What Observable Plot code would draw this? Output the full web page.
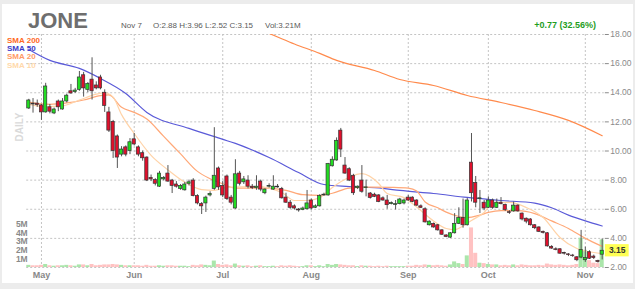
<!DOCTYPE html>
<html><head><meta charset="utf-8">
<script src="https://cdn.jsdelivr.net/npm/d3@7"></script>
<script src="https://cdn.jsdelivr.net/npm/@observablehq/plot@0.6"></script>
<style>
html,body{margin:0;padding:0;background:#ececec;}
#wrap{position:relative;width:635px;height:289px;overflow:hidden;font-family:"Liberation Sans",Arial,sans-serif;}
#panel{position:absolute;left:2px;top:4px;width:631px;height:279px;background:#fff;}
#plot,#over{position:absolute;left:0;top:0;}
</style></head><body>
<div id="wrap"><div id="panel"></div><div id="plot"></div><svg id="over" width="635" height="289"></svg></div>
<script>
const ticker = "JONE";
const infoDate = "Nov 7";
const infoOHLC = "O:2.88 H:3.96 L:2.52 C:3.15";
const infoVol = "Vol:3.21M";
const infoChange = "+0.77 (32.56%)";
const lastClose = 3.15;

const monthIdx = [4, 26, 47, 68, 91, 110, 133];
const monthLabels = ["May", "Jun", "Jul", "Aug", "Sep", "Oct", "Nov"];
const priceTicks = [2, 4, 6, 8, 10, 12, 14, 16, 18];
const volTicks = [1, 2, 3, 4, 5];

const openP = [
 12.92,13.25,13.25,13.13,12.65,13.0,12.58,13.4,12.85,13.4,
 14.1,14.05,14.2,15.2,14.2,14.9,14.5,15.05,14.0,12.65,
 12.0,11.0,9.75,10.25,10.0,10.8,10.25,9.85,9.55,8.15,
 8.0,7.55,8.05,8.45,7.97,7.7,7.4,7.3,7.75,7.97,
 6.9,6.35,6.4,6.95,7.4,8.8,7.6,8.25,6.8,6.05,
 8.45,7.85,7.97,7.55,7.45,7.9,7.1,7.55,7.35,7.55,
 7.4,6.8,6.45,6.2,5.98,5.95,6.0,6.6,6.1,6.2,
 6.95,6.95,8.95,9.35,11.4,9.0,8.75,8.3,7.45,7.97,
 7.45,7.08,7.0,6.95,6.75,6.6,6.35,6.3,6.35,6.4,
 6.8,6.8,6.6,6.2,6.0,4.9,5.0,4.9,4.55,4.2,
 4.05,4.35,5.0,5.4,4.9,9.2,7.8,6.7,6.45,6.1,
 6.6,6.1,6.45,6.3,5.8,5.85,6.25,5.7,5.35,5.3,
 4.9,4.75,4.45,4.35,3.42,3.25,3.25,3.0,2.9,2.82,
 2.7,2.68,2.5,3.05,2.75,2.45,2.88];
const highP = [
 13.55,13.6,13.5,13.2,14.65,13.2,12.95,13.5,13.6,13.9,
 14.57,14.3,15.46,15.4,14.7,16.4,14.75,15.2,14.2,13.0,
 12.1,11.1,10.3,10.35,10.85,11.2,10.35,10.0,9.6,8.35,
 8.1,8.6,8.25,9.0,8.05,7.9,7.7,7.85,8.0,8.1,
 7.0,6.46,6.9,7.2,11.6,8.9,7.9,8.35,6.95,9.4,
 8.6,8.25,8.3,7.7,8.3,8.0,7.4,7.75,8.3,7.7,
 7.5,7.1,6.6,6.3,6.05,6.15,7.29,6.7,6.3,7.0,
 7.1,9.15,9.6,10.9,11.55,9.55,8.85,8.4,7.6,9.0,
 8.0,7.15,7.1,7.0,6.85,6.95,6.5,6.6,6.75,6.7,
 6.95,6.85,6.65,6.3,6.1,5.2,5.05,4.95,4.6,4.25,
 4.4,5.7,6.1,6.7,6.75,11.2,8.25,7.29,6.6,6.85,
 6.7,6.7,6.8,6.35,5.9,6.5,6.3,5.75,5.4,5.35,
 4.95,4.8,4.5,4.4,3.5,3.35,3.3,3.05,2.95,2.9,
 2.75,4.55,3.4,3.15,2.85,2.5,3.96];
const lowP = [
 12.85,12.6,13.0,12.1,12.6,12.55,12.5,12.7,12.8,13.3,
 13.9,13.95,14.1,13.7,14.0,13.5,14.2,14.2,12.65,11.27,
 9.49,8.8,9.6,9.6,9.75,10.35,9.6,9.3,7.9,7.9,
 7.6,7.5,7.95,7.85,7.08,7.45,7.3,7.25,7.6,6.85,
 6.3,5.64,5.78,6.85,7.3,7.3,6.8,6.6,6.3,6.0,
 7.6,7.7,7.4,7.35,7.3,7.2,7.0,7.45,7.3,7.45,
 6.7,6.4,6.0,5.95,5.8,5.9,5.95,5.95,6.05,6.15,
 6.9,6.9,8.9,9.3,9.55,8.4,7.9,6.95,7.35,7.1,
 6.85,6.7,6.8,6.45,6.55,6.0,6.3,5.95,6.3,6.3,
 6.55,6.45,6.2,6.05,5.05,4.85,4.7,4.5,4.2,4.05,
 4.0,4.3,4.95,4.7,4.85,6.5,6.1,5.71,5.9,6.05,
 6.0,6.05,6.3,5.85,5.65,5.8,5.8,5.2,5.0,4.85,
 4.6,4.4,4.3,3.4,3.25,3.15,2.9,2.85,2.75,2.7,
 2.4,2.6,2.35,2.55,2.55,2.3,2.52];
const closeP = [
 13.47,13.2,13.15,12.65,14.43,12.7,12.85,13.0,13.4,13.8,
 13.95,14.15,15.05,14.3,14.6,14.1,14.3,14.3,13.1,11.4,
 10.0,9.55,10.1,9.75,10.6,10.45,9.75,9.5,7.97,8.05,
 7.75,8.45,8.15,7.9,7.6,7.55,7.6,7.7,7.85,6.9,
 6.4,6.2,6.8,7.05,8.3,7.5,6.95,6.7,6.45,8.4,
 7.75,8.05,7.55,7.45,7.55,7.35,7.35,7.6,7.55,7.5,
 6.75,6.45,6.1,6.05,5.92,6.05,6.4,6.05,6.2,6.9,
 7.0,9.1,9.4,10.7,10.1,8.45,7.97,7.1,7.55,7.2,
 7.5,6.78,6.85,6.5,6.6,6.28,6.42,6.35,6.67,6.6,
 6.6,6.5,6.25,6.1,5.1,5.15,4.75,4.55,4.25,4.1,
 4.35,5.0,5.4,4.9,6.6,7.1,6.45,6.75,6.05,6.6,
 6.1,6.45,6.35,5.95,5.75,6.25,5.85,5.3,5.15,4.9,
 4.7,4.45,4.38,3.45,3.3,3.2,2.95,2.95,2.85,2.78,
 2.5,3.2,2.65,2.6,2.65,2.37,3.15];
// volume in millions
const volumeM = [
 0.25,0.2,0.2,0.25,0.35,0.2,0.15,0.2,0.2,0.25,
 0.2,0.15,0.3,0.3,0.2,0.35,0.2,0.25,0.3,0.3,
 0.35,0.3,0.25,0.2,0.2,0.2,0.2,0.15,0.25,0.15,
 0.15,0.2,0.15,0.2,0.2,0.15,0.15,0.15,0.1,0.25,
 0.2,0.3,0.25,0.2,0.75,0.35,0.25,0.3,0.2,0.4,
 0.2,0.15,0.2,0.1,0.15,0.2,0.1,0.1,0.15,0.1,
 0.2,0.15,0.2,0.15,0.1,0.1,0.2,0.2,0.1,0.2,
 0.1,0.35,0.25,0.35,0.3,0.25,0.2,0.2,0.1,0.2,
 0.15,0.15,0.1,0.15,0.1,0.15,0.1,0.1,0.1,0.1,
 0.15,0.15,0.25,0.2,0.3,0.25,0.2,0.25,0.2,0.15,
 0.3,0.65,0.45,0.35,1.35,4.6,1.65,0.5,0.45,0.35,
 0.3,0.3,0.2,0.25,0.2,0.3,0.2,0.3,0.25,0.2,
 0.2,0.25,0.2,0.4,0.3,0.25,0.3,0.25,0.2,0.25,
 0.35,3.4,2.0,0.8,0.5,0.45,3.21];

// moving averages read at sample trading-day indices [index, value]
const sma200 = [[54,18.5],[58,18.07],[64,17.35],[70,16.7],[74,16.22],[83,15.53],[89,14.91],[97,14.5],[105,13.81],[113,13.33],[121,12.78],[129,12.1],[137,11.05]];
const sma50 = [[1,16.97],[6,16.22],[13,15.67],[18,14.98],[24,13.95],[29,12.65],[39,11.55],[47,10.8],[50,10.52],[58,9.55],[65,8.52],[71,7.7],[77,7.56],[85,7.43],[89,7.29],[97,7.08],[105,6.81],[113,6.6],[121,6.42],[125,6.1],[129,5.6],[133,5.2],[137,4.85]];
const sma20 = [[1,13.35],[6,13.2],[10,13.3],[14,13.5],[18,13.8],[20,13.85],[23,13.0],[26,12.65],[29,12.2],[33,11.0],[37,9.8],[41,8.6],[44,8.1],[47,7.75],[50,7.45],[57,7.45],[62,7.3],[66,7.0],[70,6.95],[73,7.1],[77,7.45],[82,7.52],[87,7.5],[91,7.45],[93,7.25],[95,6.5],[98,6.1],[100,5.8],[103,5.5],[105,5.43],[108,5.6],[110,5.78],[113,5.9],[117,5.9],[121,5.7],[125,5.2],[129,4.68],[133,4.0],[137,3.45]];
const sma10 = [[1,13.2],[5,13.05],[9,13.1],[13,13.5],[17,13.9],[19,14.0],[21,13.7],[23,12.5],[26,11.2],[30,9.7],[34,8.7],[38,7.85],[42,7.35],[45,7.3],[48,7.5],[55,7.55],[58,7.45],[61,7.15],[64,6.6],[67,6.6],[70,6.8],[73,7.5],[77,8.2],[80,8.45],[84,7.77],[86,7.08],[90,6.8],[93,6.15],[97,5.2],[100,4.68],[102,4.6],[104,4.85],[106,5.23],[109,5.78],[111,6.4],[115,6.47],[119,6.12],[123,5.43],[127,4.06],[131,3.3],[135,3.03],[137,2.95]];

const smaLegend = [
 {name: "SMA 200", color: "#ff6a1f", data: sma200, stroke: "#ff8a4c"},
 {name: "SMA 50", color: "#3c3cc8", data: sma50, stroke: "#5a5ad8"},
 {name: "SMA 20", color: "#ff9a66", data: sma20, stroke: "#ffa878"},
 {name: "SMA 10", color: "#ffd9ab", data: sma10, stroke: "#ffd3a8"}
];

const volK = 8.6 / 14.56; // price units per million shares (volume overlay)
const bars = openP.map((o, k) => ({i: k + 1, o, h: highP[k], l: lowP[k], c: closeP[k], v: volumeM[k], up: closeP[k] >= o}));
const monthMap = new Map(monthIdx.map((d, k) => [d, monthLabels[k]]));
const dash = {stroke: "#c4c4c4", strokeOpacity: 1, strokeDasharray: "2,2"};

const chart = Plot.plot({
  width: 635, height: 289,
  marginTop: 34, marginBottom: 22, marginLeft: 26.2, marginRight: 31.2,
  style: {fontFamily: "Liberation Sans, Arial, sans-serif", background: "transparent", overflow: "visible"},
  x: {type: "linear", domain: [0.5, 137.5], label: null},
  y: {type: "linear", domain: [2, 18], label: null},
  marks: [
    Plot.gridY(priceTicks, dash),
    Plot.gridX(monthIdx, dash),
    Plot.rect(bars, {x1: d => d.i - 0.48, x2: d => d.i + 0.48, y1: () => 2, y2: d => 2 + d.v * volK,
      fill: d => d.up ? "#abe6ab" : "#ffc2c2"}),
    ...smaLegend.map(s => Plot.line(s.data, {x: d => d[0], y: d => d[1], stroke: s.stroke, strokeWidth: 1.2, curve: "monotone-x", clip: true})),
    Plot.ruleX(bars, {x: "i", y1: "l", y2: "h", stroke: "#555", strokeWidth: 1}),
    Plot.rect(bars, {x1: d => d.i - 0.38, x2: d => d.i + 0.38, y1: "o", y2: "c",
      fill: d => d.up ? "#22dd22" : "#e0102c", stroke: "#333", strokeWidth: 0.7}),
    Plot.text(volTicks, {y: m => 2 + m * volK, text: m => m + "M", frameAnchor: "left", textAnchor: "end", dx: 1, fontSize: 8.5, fill: "#8a8a8a", fontWeight: "bold"}),
    Plot.axisY(priceTicks, {anchor: "right", label: null, tickFormat: d3.format(".2f"), tickSize: 4, tickPadding: 2, fontSize: 8.5, color: "#8a8a8a"}),
    Plot.axisX(monthIdx, {label: null, tickFormat: d => monthMap.get(d), tickSize: 0, tickPadding: 4, fontSize: 9, color: "#888", fontWeight: "bold"}),
    Plot.rect([lastClose], {x1: () => 137.75, x2: () => 143.4, y1: d => d - 0.42, y2: d => d + 0.42, fill: "#ffff55"}),
    Plot.text([lastClose], {x: () => 140.55, y: d => d, text: d => d3.format(".2f")(d), fontSize: 8.5, fontWeight: "bold", fill: "#333"})
  ]
});
document.getElementById("plot").appendChild(chart);

const over = d3.select("#over").style("font-family", "Liberation Sans, Arial, sans-serif");
over.append("text").attr("x", 28).attr("y", 28).attr("font-size", 22).attr("font-weight", "bold").attr("fill", "#6e6e6e").text(ticker);
over.append("text").attr("x", 121).attr("y", 27.5).attr("font-size", 8).attr("fill", "#5a5a5a").text(infoDate);
over.append("text").attr("x", 153).attr("y", 27.5).attr("font-size", 8).attr("fill", "#5a5a5a").text(infoOHLC);
over.append("text").attr("x", 265).attr("y", 27.5).attr("font-size", 8).attr("fill", "#5a5a5a").text(infoVol);
over.append("text").attr("x", 596).attr("y", 27.5).attr("text-anchor", "end").attr("font-size", 9).attr("font-weight", "bold").attr("fill", "#1f9e1f").text(infoChange);
smaLegend.forEach((s, k) => {
  over.append("text").attr("x", 7).attr("y", 43 + k * 8.2).attr("font-size", 8).attr("font-weight", "bold").attr("fill", s.color).text(s.name);
});
over.append("text").attr("transform", "translate(23,127) rotate(-90)").attr("text-anchor", "middle")
  .attr("font-size", 10).attr("font-weight", "bold").attr("fill", "#dadada").text("DAILY");
</script>
</body></html>
